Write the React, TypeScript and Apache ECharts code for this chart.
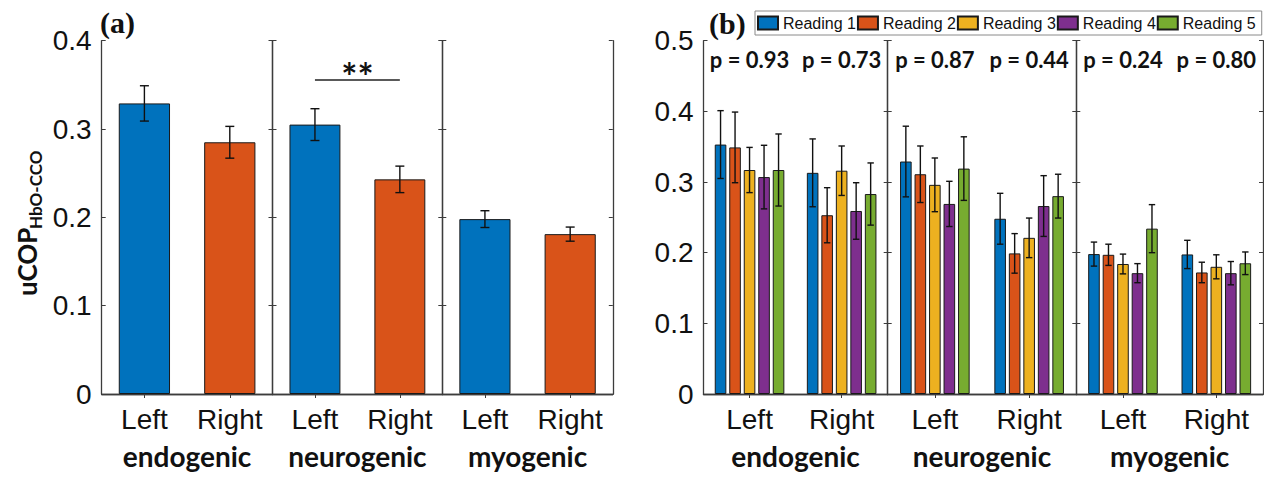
import React, { useEffect, useRef } from 'react';
import * as echarts from 'echarts';

// ---------- data ----------
const groups = ['endogenic', 'neurogenic', 'myogenic'];
const sides = ['Left', 'Right'];

// panel (a): mean uCOP and error per category (endo L/R, neuro L/R, myo L/R)
const meanA = [0.329, 0.285, 0.305, 0.243, 0.198, 0.181];
const errA = [0.020, 0.018, 0.018, 0.015, 0.0095, 0.008];

// panel (b): five readings
const readings = ['Reading 1', 'Reading 2', 'Reading 3', 'Reading 4', 'Reading 5'];
const reading1 = [0.353, 0.313, 0.329, 0.248, 0.198, 0.1975];
const reading2 = [0.349, 0.253, 0.311, 0.199, 0.197, 0.172];
const reading3 = [0.317, 0.316, 0.296, 0.221, 0.184, 0.180];
const reading4 = [0.307, 0.259, 0.269, 0.266, 0.171, 0.171];
const reading5 = [0.317, 0.283, 0.319, 0.280, 0.234, 0.185];
const err1 = [0.048, 0.048, 0.050, 0.036, 0.017, 0.020];
const err2 = [0.050, 0.039, 0.040, 0.028, 0.015, 0.0145];
const err3 = [0.032, 0.035, 0.038, 0.028, 0.014, 0.017];
const err4 = [0.045, 0.040, 0.032, 0.043, 0.0135, 0.0165];
const err5 = [0.051, 0.044, 0.045, 0.031, 0.034, 0.016];
const pValues = ['p = 0.93', 'p = 0.73', 'p = 0.87', 'p = 0.44', 'p = 0.24', 'p = 0.80'];
const sigLevel = 0.3556; // y of the "**" bracket (neurogenic)

const yMaxA = 0.4;
const yMaxB = 0.5;
const yStep = 0.1;

// ---------- style ----------
const readingMeans = [reading1, reading2, reading3, reading4, reading5];
const readingErrs = [err1, err2, err3, err4, err5];
const readingColors = ['#0072BD', '#D95319', '#EDB120', '#7E2F8E', '#77AC30'];
const sideColors = ['#0072BD', '#D95319'];
const AX_FONT = 'Liberation Sans, Arial, sans-serif';
const CAL_FONT = 'Lato, Carlito, sans-serif';
const FRAME = '#3c3c3c';
const INK = '#111111';

const panelA = { xs: [101.7, 272.5, 442.3, 612.8], max: yMaxA };
const panelB = { xs: [703.5, 887.7, 1076.3, 1263], max: yMaxB };
const TOP = 40.7;
const BOTTOM = 394;
const BW_B = 11.6; // px bar width in (b)
const BG_B = 0.25; // bar gap ratio in (b)

function buildOption() {
  const grid: any[] = [];
  const xAxis: any[] = [];
  const yAxis: any[] = [];
  const series: any[] = [];
  const axisLine = { show: true, lineStyle: { color: FRAME, width: 1.3 } };
  const tick = { show: true, inside: true, length: 4, alignWithLabel: true, interval: 0, lineStyle: { color: FRAME, width: 1 } };

  [panelA, panelB].forEach((panel, p) => {
    for (let s = 0; s < 3; s++) {
      const g = grid.length;
      grid.push({
        left: panel.xs[s],
        width: panel.xs[s + 1] - panel.xs[s],
        top: TOP,
        height: BOTTOM - TOP,
        containLabel: false,
      });
      const xb = xAxis.length;
      xAxis.push({
        gridIndex: g,
        type: 'category',
        data: sides,
        position: 'bottom',
        axisLine,
        axisTick: tick,
        axisLabel: { fontFamily: AX_FONT, fontSize: 28, color: INK, margin: 11, interval: 0 },
        name: groups[s],
        nameLocation: 'middle',
        nameGap: 48,
        nameTextStyle: { fontFamily: CAL_FONT, fontWeight: 'bold', fontSize: 28, color: INK },
      });
      xAxis.push({
        gridIndex: g,
        type: 'category',
        data: p === 1 ? pValues.slice(2 * s, 2 * s + 2) : sides,
        position: 'top',
        axisLine,
        axisTick: tick,
        axisLabel:
          p === 1
            ? {
                show: true,
                inside: true,
                interval: 0,
                hideOverlap: false,
                fontFamily: CAL_FONT,
                fontWeight: 'bold',
                fontSize: 22,
                color: INK,
                margin: 8,
              }
            : { show: false },
      });
      const yl = yAxis.length;
      yAxis.push({
        gridIndex: g,
        type: 'value',
        min: 0,
        max: panel.max,
        interval: yStep,
        position: 'left',
        axisLine,
        axisTick: { show: true, inside: true, length: 4, lineStyle: { color: FRAME, width: 1 } },
        splitLine: { show: false },
        axisLabel:
          s === 0
            ? {
                show: true,
                fontFamily: AX_FONT,
                fontSize: 28,
                color: INK,
                margin: 10,
                formatter: (v: number) => (v === 0 ? '0' : v.toFixed(1)),
              }
            : { show: false },
      });
      yAxis.push({
        gridIndex: g,
        type: 'value',
        min: 0,
        max: panel.max,
        interval: yStep,
        position: 'right',
        axisLine,
        axisTick: { show: true, inside: true, length: 4, lineStyle: { color: FRAME, width: 1 } },
        splitLine: { show: false },
        axisLabel: { show: false },
      });

      if (p === 0) {
        const barSeries: any = {
          type: 'bar',
          name: 'uCOP ' + groups[s],
          xAxisIndex: xb,
          yAxisIndex: yl,
          barWidth: '60%',
          itemStyle: { borderColor: '#1a1a1a', borderWidth: 1 },
          data: [0, 1].map((k) => ({
            value: meanA[2 * s + k],
            itemStyle: { color: sideColors[k] },
          })),
        };
        if (s === 1) {
          barSeries.markLine = {
            silent: true,
            symbol: 'none',
            lineStyle: { color: '#222', width: 1.5, type: 'solid' },
            label: {
              show: true,
              formatter: '**',
              position: 'middle',
              distance: -15,
              fontFamily: CAL_FONT,
              fontWeight: 'bold',
              fontSize: 38,
              color: INK,
            },
            data: [[{ coord: [sides[0], sigLevel] }, { coord: [sides[1], sigLevel] }]],
          };
        }
        series.push(barSeries);
        series.push({
          type: 'custom',
          xAxisIndex: xb,
          yAxisIndex: yl,
          z: 5,
          silent: true,
          data: [0, 1].map((k) => [k, meanA[2 * s + k], errA[2 * s + k], 0]),
          renderItem: (params: any, api: any) => errorBar(api, 0, 4.5),
        });
      } else {
        readings.forEach((name, r) => {
          series.push({
            type: 'bar',
            name,
            xAxisIndex: xb,
            yAxisIndex: yl,
            barWidth: BW_B,
            barGap: BG_B * 100 + '%',
            itemStyle: { color: readingColors[r], borderColor: '#1a1a1a', borderWidth: 1 },
            data: [readingMeans[r][2 * s], readingMeans[r][2 * s + 1]],
          });
        });
        const errData: any[] = [];
        readings.forEach((_, r) => {
          [0, 1].forEach((k) => {
            errData.push([k, readingMeans[r][2 * s + k], readingErrs[r][2 * s + k], r]);
          });
        });
        series.push({
          type: 'custom',
          xAxisIndex: xb,
          yAxisIndex: yl,
          z: 5,
          silent: true,
          data: errData,
          renderItem: (params: any, api: any) =>
            errorBar(api, (api.value(3) - 2) * BW_B * (1 + BG_B), 3.2),
        });
      }
    }
  });

  return {
    animation: false,
    backgroundColor: '#ffffff',
    grid,
    xAxis,
    yAxis,
    series,
    legend: {
      data: readings,
      left: 755,
      top: 11,
      orient: 'horizontal',
      icon: 'rect',
      itemWidth: 20,
      itemHeight: 13,
      itemGap: 1,
      padding: [4, 6, 4, 2],
      borderColor: '#8a8a8a',
      borderWidth: 1,
      backgroundColor: '#ffffff',
      textStyle: { fontFamily: AX_FONT, fontSize: 16, color: INK },
    },
    graphic: [
      {
        type: 'text',
        left: 100,
        top: 7,
        style: { text: '(a)', font: 'bold 30px "Liberation Serif", serif', fill: INK },
      },
      {
        type: 'text',
        left: 709,
        top: 8,
        style: { text: '(b)', font: 'bold 30px "Liberation Serif", serif', fill: INK },
      },
      {
        type: 'group',
        x: 27,
        y: 222,
        rotation: Math.PI / 2,
        children: [
          {
            type: 'text',
            x: -74,
            y: 0,
            style: {
              text: 'uCOP',
              font: 'bold 26px Lato, sans-serif',
              fill: INK,
              textAlign: 'left',
              textVerticalAlign: 'middle',
            },
          },
          {
            type: 'text',
            x: -7,
            y: 8,
            style: {
              text: 'HbO-CCO',
              font: 'bold 17px Lato, sans-serif',
              fill: INK,
              textAlign: 'left',
              textVerticalAlign: 'middle',
            },
          },
        ],
      },
    ],
  };
}

function errorBar(api: any, offset: number, cap: number) {
  const x = api.value(0);
  const m = api.value(1);
  const e = api.value(2);
  const hi = api.coord([x, m + e]);
  const lo = api.coord([x, m - e]);
  const cx = hi[0] + offset;
  const style = { stroke: '#111', lineWidth: 1.4 };
  return {
    type: 'group',
    children: [
      { type: 'line', shape: { x1: cx, y1: hi[1], x2: cx, y2: lo[1] }, style },
      { type: 'line', shape: { x1: cx - cap, y1: hi[1], x2: cx + cap, y2: hi[1] }, style },
      { type: 'line', shape: { x1: cx - cap, y1: lo[1], x2: cx + cap, y2: lo[1] }, style },
    ],
  };
}

export default function App() {
  const ref = useRef<HTMLDivElement>(null);
  useEffect(() => {
    if (!ref.current) return;
    const chart = echarts.init(ref.current, undefined, { renderer: 'svg' });
    chart.setOption(buildOption() as any);
    return () => chart.dispose();
  }, []);
  return (
    <div
      ref={ref}
      style={{ position: 'fixed', left: 0, top: 0, width: 1264, height: 481, background: '#fff' }}
    />
  );
}
